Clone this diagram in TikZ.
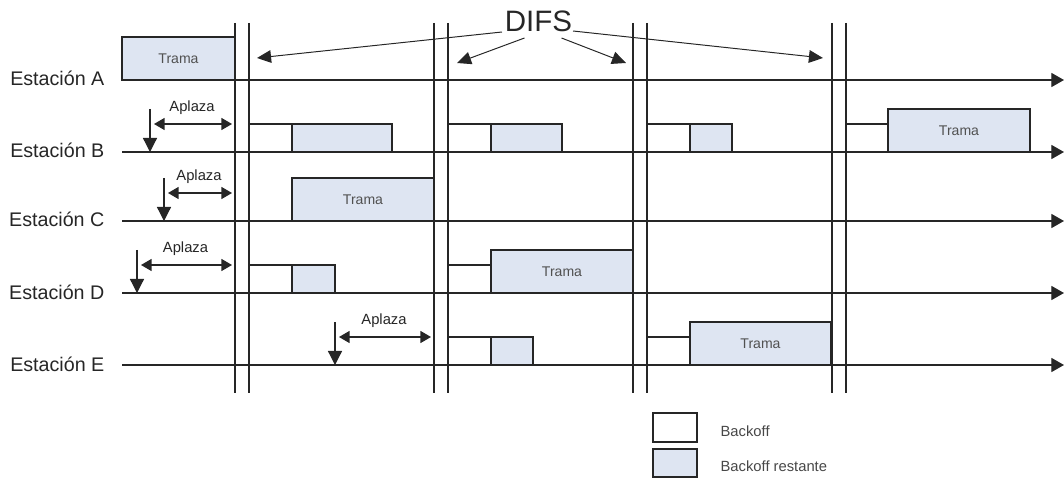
\documentclass[tikz,border=0pt]{standalone}
\usepackage{fontspec}
\setmainfont{Liberation Sans}
\usetikzlibrary{arrows.meta,calc}
\definecolor{ink}{RGB}{38,38,38}
\definecolor{restfill}{RGB}{222,229,242}

\begin{document}
\begin{tikzpicture}[x=0.025cm,y=-0.025cm,line width=0.9pt,color=ink]
 \tikzstyle{timeline} = [-{Triangle[length=9pt,width=10pt]}]
 \tikzstyle{ifs} = [line width=0.9pt]
 \tikzstyle{defer} = [-{Triangle[length=10pt,width=10pt]}]
 \tikzstyle{aplaza} = [{Triangle[length=7.5pt,width=8.5pt]}-{Triangle[length=7.5pt,width=8.5pt]}]
 \tikzstyle{difsarrow} = [line width=0.7pt,-{Triangle[length=10pt,width=9pt]}]
 \tikzstyle{bkbox} = [draw,fill=white]
 \tikzstyle{restbox} = [draw,fill=restfill]
 \tikzstyle{stlabel} = [font=\fontsize{14}{16}\selectfont,inner sep=0,anchor=base east]
 \tikzstyle{tramatxt} = [font=\fontsize{10}{12}\selectfont,text=ink!80]
 \tikzstyle{apltxt} = [font=\fontsize{10.5}{12}\selectfont]
 \tikzstyle{difstxt} = [font=\fontsize{21}{24}\selectfont,inner sep=0]
 \tikzstyle{legtxt} = [font=\fontsize{10.5}{12}\selectfont,inner sep=0,anchor=west,text=ink!85]
 % backoff: x, station line; remaining backoff: x1, x2, station line
 \newcommand{\bkoff}[2]{\draw[bkbox] (#1,#2-28) rectangle ++(43,28);}
 \newcommand{\restbk}[3]{\draw[restbox] (#1,#3-28) rectangle (#2,#3);}
 % frame: name, x1, x2, station line
 \newcommand{\tramabox}[4]{\draw[restbox] (#2,#4-43) rectangle (#3,#4);
  \node[tramatxt] (#1) at ({(#2+#3)/2},#4-21.5) {Trama};}

 \useasboundingbox (0,0) rectangle (1064,478);

% Stations
 \foreach \s/\y in {A/80,B/152,C/221,D/293,E/365} {
  \node[stlabel] (lab\s) at (105,\y+6) {Estación \s};
  \coordinate (beg\s) at (122,\y);
  \coordinate (end\s) at (1064,\y);
  \draw[timeline] (beg\s) -- (end\s);
 }

% Frames and backoffs
 \tramabox{trA}{122}{235}{80}
 \bkoff{249}{152} \restbk{292}{392}{152}
 \bkoff{448}{152} \restbk{491}{562}{152}
 \bkoff{647}{152} \restbk{690}{732}{152}
 \bkoff{846}{152} \tramabox{trB}{888}{1030}{152}
 \tramabox{trC}{292}{434}{221}
 \bkoff{249}{293} \restbk{292}{335}{293}
 \bkoff{448}{293} \tramabox{trD}{491}{633}{293}
 \bkoff{448}{365} \restbk{491}{533}{365}
 \bkoff{647}{365} \tramabox{trE}{690}{831}{365}

% DIFS borders
 \foreach \x in {235,249,434,448,633,647,832,846}
  \draw[ifs] (\x,23) -- (\x,393);

% Deferrals
 \foreach \s/\y/\xd/\xe in {B/152/150/232,C/221/164/232,D/293/137/232,E/365/335/431} {
  \coordinate (def\s) at (\xd,\y-43);
  \coordinate (hit\s) at (\xd,\y);
  \draw[defer] (def\s) -- (hit\s);
  \coordinate (apl\s) at (\xd+4,\y-28);
  \coordinate (dif\s) at (\xe,\y-28);
  \draw[aplaza] (apl\s) -- (dif\s);
  \node[apltxt] (apt\s) at ({(\xd+\xe)/2+1},\y-44) {Aplaza};
 }

% DIFS label
 \node[difstxt] (difs) at (538.5,21.5) {DIFS};
 \coordinate (tip1) at (257,58);
 \coordinate (tip2) at (457,63);
 \coordinate (tip3) at (626,63);
 \coordinate (tip4) at (823,58);
 \draw[difsarrow] ($(difs)+(-36.5,10.5)$) -- (tip1);
 \draw[difsarrow] ($(difs)+(-14,16.5)$) -- (tip2);
 \draw[difsarrow] ($(difs)+(23,16.5)$) -- (tip3);
 \draw[difsarrow] ($(difs)+(34.5,9.5)$) -- (tip4);

% Legend
 \draw[bkbox] (653,413) rectangle (697,442);
 \node[legtxt] (legbk) at (720,431) {Backoff};
 \draw[restbox] (653,449) rectangle (697,477);
 \node[legtxt] (legrest) at (720,466) {Backoff restante};
\end{tikzpicture}
\end{document}
